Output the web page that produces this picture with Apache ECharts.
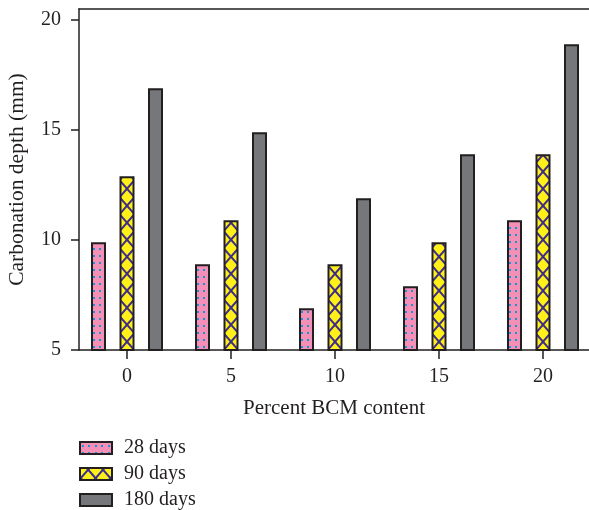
<!DOCTYPE html>
<html>
<head>
<meta charset="utf-8">
<script src="https://cdn.jsdelivr.net/npm/echarts@6/dist/echarts.min.js"></script>
<style>html,body{margin:0;padding:0;background:#fff}#c{width:589px;height:510px}</style>
</head>
<body>
<div id="c"></div>
<script>
const contents = [0, 5, 10, 15, 20];
const days28 = [9.9, 8.9, 6.9, 7.9, 10.9];
const days90 = [12.9, 10.9, 8.9, 9.9, 13.9];
const days180 = [16.9, 14.9, 11.9, 13.9, 18.9];
const seriesNames = ['28 days', '90 days', '180 days'];
const yTicks = [5, 10, 15, 20];

const FONT = 'Liberation Serif';
const INK = '#231f20';

function dotTile() {
  const c = document.createElement('canvas');
  c.width = 13; c.height = 7;
  const g = c.getContext('2d');
  g.fillStyle = '#f48fb7';
  g.fillRect(0, 0, 13, 7);
  g.fillStyle = '#1a93d3';
  g.fillRect(2, 3, 2, 2);
  g.fillRect(8, 3, 2, 2);
  return c;
}
function crossTile() {
  const W = 104, H = 17, P = 104 / 7, cx = 23, cy = 1.7;
  const c = document.createElement('canvas');
  c.width = W; c.height = H;
  const g = c.getContext('2d');
  g.fillStyle = '#fff01a';
  g.fillRect(0, 0, W, H);
  g.strokeStyle = '#3b2b8c';
  g.lineWidth = 2;
  for (const s of [1, -1]) {
    for (let k = -12; k <= 12; k++) {
      const x0 = -30, x1 = W + 30;
      g.beginPath();
      g.moveTo(x0, cy + s * (H / P) * (x0 - cx) + k * H);
      g.lineTo(x1, cy + s * (H / P) * (x1 - cx) + k * H);
      g.stroke();
    }
  }
  return c;
}

const fills = [
  { image: dotTile(), repeat: 'repeat' },
  { image: crossTile(), repeat: 'repeat' },
  '#76777a'
];
const dataSets = [days28, days90, days180];

const chart = echarts.init(document.getElementById('c'), null, { renderer: 'canvas' });
const xMin = -48 / 20.8, xMax = 462 / 20.8;
chart.setOption({
  animation: false,
  backgroundColor: '#fff',
  grid: { left: 79, right: 0, top: 9, bottom: 160, outerBoundsMode: 'none' },
  legend: {
    orient: 'vertical', left: 79, top: 438, height: 72, padding: 0, icon: 'rect',
    itemWidth: 32, itemHeight: 12, itemGap: 6,
    textStyle: { fontFamily: FONT, fontSize: 20, color: INK, lineHeight: 20, padding: [0, 0, 0, 7] },
    itemStyle: { borderColor: INK, borderWidth: 2 },
    data: seriesNames
  },
  xAxis: [{
    type: 'value', min: xMin, max: xMax,
    name: 'Percent BCM content', nameLocation: 'middle', nameGap: 48,
    nameTextStyle: { fontFamily: FONT, fontSize: 21, color: INK },
    axisLine: { show: true, onZero: false, lineStyle: { color: INK, width: 1.5 } },
    axisTick: { show: true, length: 9, lineStyle: { color: INK, width: 1.5 }, customValues: contents },
    axisLabel: { fontFamily: FONT, fontSize: 20, color: INK, margin: 17, customValues: contents },
    splitLine: { show: false }
  }, {
    type: 'value', min: xMin, max: xMax, position: 'top',
    axisLine: { show: true, onZero: false, lineStyle: { color: INK, width: 1.5 } },
    axisTick: { show: false }, axisLabel: { show: false }, splitLine: { show: false }
  }],
  yAxis: {
    type: 'value', min: 5, max: 20.5,
    name: 'Carbonation depth (mm)', nameLocation: 'middle', nameGap: 51,
    nameTextStyle: { fontFamily: FONT, fontSize: 21.5, color: INK },
    axisLine: { show: true, onZero: false, lineStyle: { color: INK, width: 1.5 } },
    axisTick: { show: true, length: 8, lineStyle: { color: INK, width: 1.5 }, customValues: yTicks },
    axisLabel: { fontFamily: FONT, fontSize: 20, color: INK, margin: 18, customValues: yTicks },
    splitLine: { show: false }
  },
  series: seriesNames.map((name, i) => ({
    name, type: 'bar', xAxisIndex: 0,
    barWidth: 15, barGap: '90%',
    itemStyle: { color: fills[i], borderColor: INK, borderWidth: 2 },
    data: contents.map((x, j) => [x, dataSets[i][j]])
  }))
});
</script>
</body>
</html>
